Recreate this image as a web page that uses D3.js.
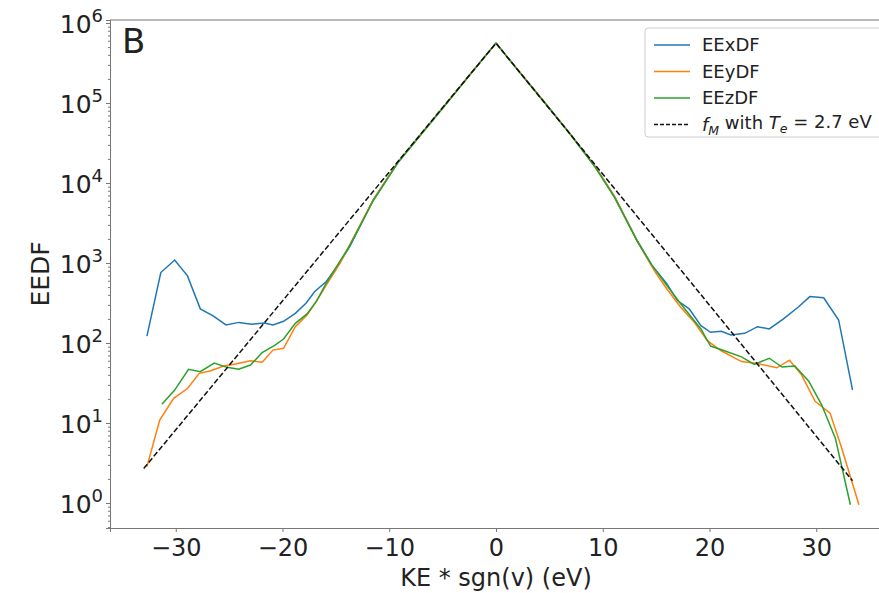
<!DOCTYPE html>
<html>
<head>
<meta charset="utf-8">
<script src="https://cdn.jsdelivr.net/npm/d3@7"></script>
<style>
  body { margin: 0; background: #fff; }
  text { font-family: "DejaVu Sans", sans-serif; fill: #222; }
</style>
</head>
<body>
<div id="chart"></div>
<script>
// values
const xTicks = [-30, -20, -10, 0, 10, 20, 30];
const yTicks = [1, 10, 100, 1000, 10000, 100000, 1000000];

const exX = [-32.7,-31.4,-30.1,-28.9,-27.7,-26.5,-25.3,-24.1,-22.9,-21.7,-20.9,-19.9,-18.8,-17.8,-17.0,-15.9,-14.9,-13.7,-11.5,-9.15,-7.4,-4.9,-2.4,0,2.25,4.6,6.9,9.3,11.1,13.2,14.6,16.0,17.0,18.1,19.2,20.1,21.1,22.0,23.3,24.5,25.6,26.9,28.3,29.4,30.7,32.1,33.4];
const exY = [122,760,1090,690,267,218,168,181,172,178,168,187,235,314,437,588,900,1600,6150,18500,35500,90000,230000,560000,240000,100000,42000,16000,6800,1940,940,550,339,267,165,136,140,126,132,160,150,199,280,380,367,194,26];

const eyX = [-32.7,-31.5,-30.2,-28.9,-27.8,-26.8,-25.5,-24.4,-23.0,-21.9,-20.9,-19.9,-18.8,-17.7,-16.8,-15.9,-14.6,-13.7,-11.5,-9.15,-7.4,-4.9,-2.4,0,2.25,4.6,6.9,9.3,11.1,13.2,14.9,16.0,17.3,18.6,19.8,21.1,23.0,24.5,26.3,27.5,28.6,29.9,31.3,32.4,34.0];
const eyY = [2.85,10.9,20.3,27,41.7,44.7,51.5,54.6,60,57.5,81.5,85.8,160,224,336,530,995,1690,6150,18500,35500,90000,230000,560000,240000,100000,42000,16000,6800,1900,775,477,280,180,107,80,58.6,55.5,49,61,40.5,18.7,13.3,4.8,0.95];

const ezX = [-31.3,-30.1,-28.8,-27.7,-26.4,-25.2,-24.1,-23.0,-21.9,-20.7,-19.9,-18.8,-17.7,-16.8,-15.9,-13.7,-11.5,-9.15,-7.4,-4.9,-2.4,0,2.25,4.6,6.9,9.3,11.1,13.2,14.6,16.0,17.3,18.2,19.2,20.1,21.4,23.0,24.2,25.6,26.8,28.0,29.3,30.5,31.8,33.2];
const ezY = [17.1,25.8,46.9,43.7,56,49.6,46.9,53,76,94,112,176,231,336,560,1650,6000,18200,35000,89000,228000,560000,238000,99000,41500,15700,6600,1900,940,525,309,219,150,91.6,80,67,54,64.5,50,51.5,33.3,17,6.4,0.95];

const fmX = [-33, 0, 33.4];
const fmY = [2.7, 560000, 1.9];

const W = 879, H = 593;
const margin = {top: 20, right: -13, bottom: 65, left: 110};
const width = W - margin.left - margin.right,
      height = H - margin.top - margin.bottom;

const svg = d3.select("#chart")
  .append("svg")
  .attr("width", W)
  .attr("height", H)
  .append("g")
  .attr("transform", `translate(${margin.left}, ${margin.top})`);

const x = d3.scaleLinear()
  .domain([-36.16, 37.1])
  .range([0, width]);

const y = d3.scaleLog()
  .domain([Math.pow(10, -0.3125), Math.pow(10, 6.0375)])
  .range([height, 0]);

svg.append("clipPath").attr("id", "clip")
  .append("rect").attr("width", width).attr("height", height);

// x axis
const xAxis = svg.append("g")
  .attr("transform", `translate(0, ${height})`)
  .call(d3.axisBottom(x).tickValues(xTicks).tickSize(4).tickPadding(5)
    .tickFormat(d => d < 0 ? "\u2212" + Math.abs(d) : d));
xAxis.selectAll("text").style("font-size", "24px").attr("y", 28).attr("dy", null);

// y axis, major ticks with superscript labels
const yAxis = svg.append("g")
  .call(d3.axisLeft(y).tickValues(yTicks).tickSize(4).tickPadding(4).tickFormat(""));
yAxis.selectAll(".tick").each(function(d) {
  const t = d3.select(this).append("text")
    .attr("x", -7).attr("dy", "0.36em")
    .attr("text-anchor", "end")
    .style("font-size", "25px")
    .style("fill", "#222");
  t.append("tspan").text("10");
  t.append("tspan").attr("dy", "-0.6em").style("font-size", "18px")
    .text(Math.round(Math.log10(d)));
});

// minor ticks
const minor = [];
for (let e = -1; e < 7; e++) {
  for (let m = 2; m <= 9; m++) {
    const v = m * Math.pow(10, e);
    if (v > y.domain()[0] && v < y.domain()[1]) minor.push(v);
  }
}
svg.append("g")
  .call(d3.axisLeft(y).tickValues(minor).tickSize(2).tickFormat(""));

svg.selectAll(".domain").attr("stroke", "#777");
svg.selectAll(".tick line").attr("stroke", "#777");

// top spine
svg.append("line")
  .attr("x1", 0).attr("x2", width)
  .attr("y1", 0).attr("y2", 0)
  .attr("stroke", "#777");

const line = d3.line()
  .x(d => x(d[0]))
  .y(d => y(d[1]));

const series = [
  {name: "EExDF", xs: exX, ys: exY, color: "#1f77b4"},
  {name: "EEyDF", xs: eyX, ys: eyY, color: "#ff7f0e"},
  {name: "EEzDF", xs: ezX, ys: ezY, color: "#2ca02c"}
];

const plot = svg.append("g").attr("clip-path", "url(#clip)");

series.forEach(s => {
  plot.append("path")
    .datum(s.xs.map((v, i) => [v, s.ys[i]]))
    .attr("fill", "none")
    .attr("stroke", s.color)
    .attr("stroke-width", 1.5)
    .attr("d", line);
});

plot.append("path")
  .datum(fmX.map((v, i) => [v, fmY[i]]))
  .attr("fill", "none")
  .attr("stroke", "#111")
  .attr("stroke-width", 1.5)
  .attr("stroke-dasharray", "5.5,2.4")
  .attr("d", line);

// panel letter
svg.append("text")
  .attr("x", 12).attr("y", 33)
  .style("font-size", "34px")
  .text("B");

// axis labels
svg.append("text")
  .attr("x", x(0)).attr("y", height + 58)
  .attr("text-anchor", "middle")
  .style("font-size", "24px")
  .text("KE * sgn(v) (eV)");

svg.append("text")
  .attr("transform", `translate(${-61}, ${height / 2}) rotate(-90)`)
  .attr("text-anchor", "middle")
  .style("font-size", "25px")
  .text("EEDF");

// legend
const lg = svg.append("g").attr("transform", `translate(${645 - margin.left}, ${28 - margin.top})`);
lg.append("rect")
  .attr("width", 260).attr("height", 109)
  .attr("rx", 3)
  .attr("fill", "#fff")
  .attr("stroke", "#ccc");

const rows = series.map(s => ({label: s.name, color: s.color, dash: null}))
  .concat([{label: null, color: "#111", dash: "4,2"}]);

rows.forEach((r, i) => {
  const yy = 17 + i * 26.5;
  lg.append("line")
    .attr("x1", 9).attr("x2", 45)
    .attr("y1", yy).attr("y2", yy)
    .attr("stroke", r.color)
    .attr("stroke-width", 1.5)
    .attr("stroke-dasharray", r.dash);
  const t = lg.append("text")
    .attr("x", 57).attr("y", yy).attr("dy", "0.36em")
    .style("font-size", "18px");
  if (r.label) {
    t.text(r.label);
  } else {
    t.append("tspan").style("font-style", "italic").text("f");
    t.append("tspan").style("font-style", "italic").style("font-size", "12.5px").attr("dy", "0.3em").text("M");
    t.append("tspan").attr("dy", "-0.3em").text(" with ");
    t.append("tspan").style("font-style", "italic").text("T");
    t.append("tspan").style("font-style", "italic").style("font-size", "12.5px").attr("dy", "0.3em").text("e");
    t.append("tspan").attr("dy", "-0.3em").text(" = 2.7 eV");
  }
});
</script>
</body>
</html>
